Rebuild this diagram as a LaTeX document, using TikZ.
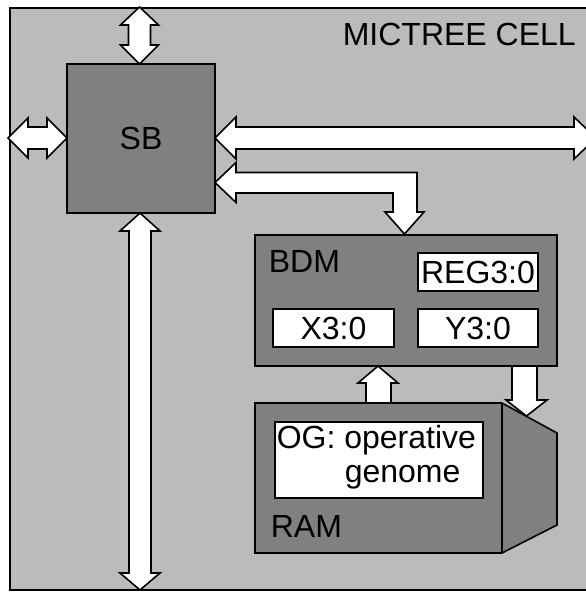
\documentclass[tikz,border=0pt]{standalone}
\usepackage{fontspec}
\setmainfont{Liberation Sans}
\definecolor{cellgray}{HTML}{BBBBBB}
\definecolor{unitgray}{HTML}{808080}
\begin{document}
\begin{tikzpicture}[x=1pt,y=-1pt,line width=1.6pt,line join=miter,
  unit/.style={draw=black,fill=unitgray,inner sep=0pt},
  regbox/.style={draw=black,fill=white,inner sep=0pt},
  blockarrow/.style={draw=black,fill=white},
  lbl/.style={inner sep=0pt,font=\fontsize{32}{34}\selectfont}]
\clip (0,0) rectangle (586,592);
% cell
\draw[fill=cellgray] (10,8) rectangle (620,590);
\node[lbl,anchor=base west] (title) at (342,45) {MICTREE CELL};
% units
\node[unit,minimum width=148pt,minimum height=149pt] (sb) at (141,138.5) {};
\node[lbl,anchor=base] (sblbl) at (141,149) {SB};
\node[unit,minimum width=302pt,minimum height=131pt] (bdm) at (406,300.5) {};
\node[lbl,anchor=base west] (bdmlbl) at (268,272) {BDM};
\node[regbox,minimum width=120pt,minimum height=38pt] (reg) at (478,272) {};
\node[lbl,anchor=base] at (478,283.5) {REG3:0};
\node[regbox,minimum width=121pt,minimum height=38pt] (xr) at (333.5,328) {};
\node[lbl,anchor=base] at (333.5,339.5) {X3:0};
\node[regbox,minimum width=120pt,minimum height=38pt] (yr) at (478,328) {};
\node[lbl,anchor=base] at (478,339.5) {Y3:0};
% RAM
\draw[unit] (255,403) -- (502,403) -- (557,433) -- (557,525) -- (502,553) -- (255,553) -- cycle;
\draw (502,403) -- (502,553);
\node[regbox,minimum width=208pt,minimum height=76pt] (og) at (379,460) {};
\node[lbl,anchor=base west] at (276,448) {OG: operative};
\node[lbl,anchor=base west] at (344,482) {genome};
\node[lbl,anchor=base west] (ramlbl) at (270,537) {RAM};
% arrows
% top
\draw[blockarrow] (139.5,7) -- (158.5,25) -- (150.5,25) -- (150.5,45) -- (158.5,45) -- (139.5,64)
  -- (120.5,45) -- (128.5,45) -- (128.5,25) -- (120.5,25) -- cycle;
% left
\draw[blockarrow] (8,138) -- (28,118) -- (28,127) -- (47,127) -- (47,118) -- (67,138)
  -- (47,158) -- (47,149) -- (28,149) -- (28,158) -- cycle;
% right long
\draw[blockarrow] (215,138) -- (236,117) -- (236,127) -- (574,127) -- (574,117) -- (596,138)
  -- (574,159) -- (574,149) -- (236,149) -- (236,159) -- cycle;
% elbow to BDM
\draw[blockarrow] (215,182.5) -- (236,162.5) -- (236,172.5) -- (417,172.5) -- (417,212) -- (424,212)
  -- (404.5,234) -- (385,212) -- (393,212) -- (393,193) -- (236,193) -- (236,202.5) -- cycle;
% bottom long
\draw[blockarrow] (140,213) -- (160,231) -- (151,231) -- (151,573) -- (160,573) -- (140,590)
  -- (120,573) -- (129,573) -- (129,231) -- (120,231) -- cycle;
% RAM -> BDM
\draw[blockarrow] (378,366) -- (398,383) -- (391,383) -- (391,403) -- (366,403) -- (366,383) -- (358,383) -- cycle;
% BDM -> RAM
\draw[blockarrow] (512,366) -- (537,366) -- (537,400) -- (547,400) -- (526.5,416) -- (506,400) -- (512,400) -- cycle;
\end{tikzpicture}
\end{document}
